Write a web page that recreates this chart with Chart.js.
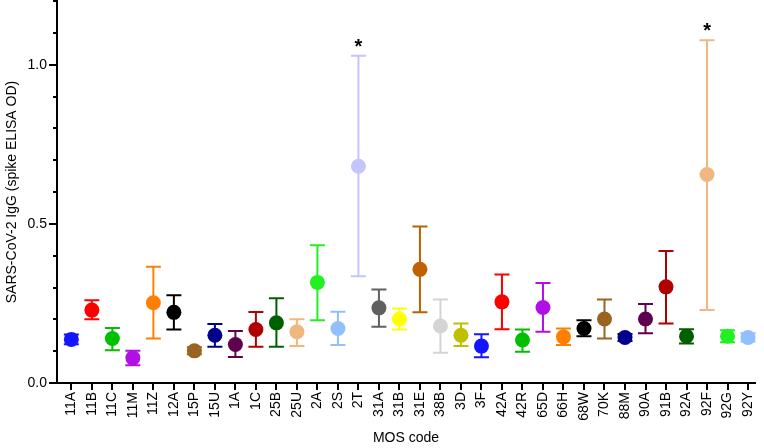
<!DOCTYPE html>
<html>
<head>
<meta charset="utf-8">
<script src="https://cdn.jsdelivr.net/npm/chart.js@4.4.1/dist/chart.umd.min.js"></script>
<style>
html, body { margin: 0; padding: 0; background: #fff; }
#wrap { width: 764px; height: 448px; position: relative; }
</style>
</head>
<body>
<div id="wrap"><canvas id="mosChart"></canvas></div>
<script>
var codes = ['11A','11B','11C','11M','11Z','12A','15P','15U','1A','1C','25B','25U','2A','2S','2T','31A','31B','31E','38B','3D','3F','42A','42R','65D','66H','68W','70K','88M','90A','91B','92A','92F','92G','92Y'];

var means = [0.137,0.229,0.140,0.079,0.252,0.222,0.101,0.150,0.121,0.168,0.189,0.161,0.316,0.171,0.681,0.236,0.201,0.357,0.179,0.150,0.116,0.255,0.135,0.237,0.145,0.171,0.201,0.143,0.201,0.302,0.147,0.655,0.147,0.143];
var lows  = [0.122,0.200,0.103,0.056,0.140,0.168,0.090,0.114,0.082,0.114,0.114,0.116,0.197,0.119,0.335,0.177,0.168,0.222,0.095,0.116,0.081,0.169,0.098,0.161,0.119,0.147,0.140,0.132,0.156,0.187,0.124,0.229,0.128,0.130];
var highs = [0.152,0.260,0.173,0.101,0.365,0.276,0.112,0.185,0.163,0.223,0.266,0.200,0.433,0.224,1.028,0.294,0.234,0.492,0.262,0.187,0.153,0.341,0.168,0.314,0.171,0.197,0.262,0.154,0.248,0.415,0.169,1.077,0.166,0.156];

var starred = ['2T','92F'];

var yTickLabels = [0, 0.5, 1.0];

var palette = ['#1414FF','#FF0000','#00C000','#B010E6','#FF8000','#000000','#9A6322','#00008C',
               '#600050','#B00000','#006000','#F0B880','#22F022','#92C0FF','#C4C4FF','#606060',
               '#FFFF00','#C06000','#D4D4D4','#C0C000'];
var colours = codes.map(function (c, i) { return palette[i % palette.length]; });

var font = 'Liberation Sans, Arial, Helvetica, sans-serif';

var errorBars = {
    id: 'errorBars',
    beforeDatasetsDraw: function (chart) {
        var ctx = chart.ctx, xs = chart.scales.x, ys = chart.scales.y;
        ctx.save();
        ctx.lineWidth = 2;
        for (var i = 0; i < codes.length; i++) {
            var x = xs.getPixelForValue(i);
            var yl = ys.getPixelForValue(lows[i]);
            var yh = ys.getPixelForValue(highs[i]);
            ctx.strokeStyle = colours[i];
            ctx.beginPath();
            ctx.moveTo(x, yl); ctx.lineTo(x, yh);
            ctx.moveTo(x - 7.5, yl); ctx.lineTo(x + 7.5, yl);
            ctx.moveTo(x - 7.5, yh); ctx.lineTo(x + 7.5, yh);
            ctx.stroke();
        }
        ctx.restore();
    },
    afterDatasetsDraw: function (chart) {
        var ctx = chart.ctx, xs = chart.scales.x, ys = chart.scales.y;
        ctx.save();
        ctx.fillStyle = '#000';
        ctx.font = 'bold 20px ' + font;
        ctx.textAlign = 'center';
        ctx.textBaseline = 'alphabetic';
        starred.forEach(function (code) {
            var i = codes.indexOf(code);
            ctx.fillText('*', xs.getPixelForValue(i), ys.getPixelForValue(highs[i]) - 3);
        });
        // minor ticks on the y axis
        ctx.strokeStyle = '#000';
        ctx.lineWidth = 2;
        var left = ys.right;
        for (var v = 1; v <= 12; v++) {
            if (v % 5 === 0) continue;
            var y = Math.round(ys.getPixelForValue(v / 10));
            ctx.beginPath();
            ctx.moveTo(left - 4, y); ctx.lineTo(left, y);
            ctx.stroke();
        }
        ctx.restore();
    }
};

new Chart(document.getElementById('mosChart'), {
    type: 'scatter',
    data: {
        datasets: [{
            data: means.map(function (m, i) { return { x: i, y: m }; }),
            pointBackgroundColor: colours,
            pointBorderWidth: 0,
            pointRadius: 7.5,
            pointHoverRadius: 7.5,
            clip: false
        }]
    },
    options: {
        responsive: true,
        maintainAspectRatio: false,
        animation: false,
        layout: { autoPadding: false, padding: { top: 1, right: 9, bottom: 0, left: 0 } },
        plugins: { legend: { display: false }, tooltip: { enabled: false } },
        scales: {
            x: {
                type: 'linear',
                min: -0.7,
                max: 33.34,
                afterBuildTicks: function (scale) {
                    scale.ticks = codes.map(function (c, i) { return { value: i }; });
                },
                afterFit: function (scale) {
                    scale.height = 65;
                    scale.paddingLeft = 0;
                    scale.paddingRight = 0;
                },
                border: { display: true, color: '#000', width: 2 },
                grid: { display: true, drawOnChartArea: false, drawTicks: true, tickLength: 7, color: '#000', lineWidth: 2 },
                ticks: {
                    autoSkip: false,
                    maxRotation: 90,
                    minRotation: 90,
                    padding: 2,
                    color: '#000',
                    font: { family: font, size: 14 },
                    callback: function (v) { return codes[v] !== undefined ? codes[v] : ''; }
                },
                title: { display: true, text: 'MOS code', color: '#000', font: { family: font, size: 14 }, padding: { top: 0, bottom: 1 } }
            },
            y: {
                min: 0,
                max: 1.2,
                afterBuildTicks: function (scale) {
                    scale.ticks = yTickLabels.map(function (v) { return { value: v }; });
                },
                afterFit: function (scale) {
                    scale.width = 57;
                    scale.paddingTop = 0;
                    scale.paddingBottom = 0;
                },
                border: { display: true, color: '#000', width: 2 },
                grid: { display: true, drawOnChartArea: false, drawTicks: true, tickLength: 8, color: '#000', lineWidth: 2 },
                ticks: {
                    padding: 2,
                    color: '#000',
                    font: { family: font, size: 14 },
                    callback: function (v) { return v.toFixed(1); }
                },
                title: { display: true, text: 'SARS-CoV-2 IgG (spike ELISA OD)', color: '#000', font: { family: font, size: 14 }, padding: { top: 4, bottom: 0 } }
            }
        }
    },
    plugins: [errorBars]
});
</script>
</body>
</html>
